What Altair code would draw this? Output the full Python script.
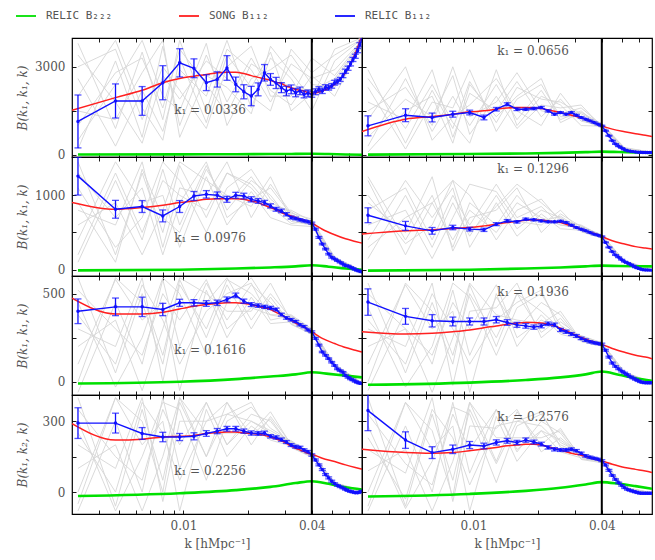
import altair as alt
import pandas as pd

# ---------------- data ----------------
K = [0.0032, 0.0048, 0.0064, 0.0080, 0.0096, 0.0112, 0.0128, 0.0144, 0.0160, 0.0176,
     0.0192, 0.0208, 0.0224, 0.0240, 0.0256, 0.0272, 0.0288, 0.0304, 0.0320, 0.0336,
     0.0352, 0.0368, 0.0384, 0.0400, 0.0416, 0.0432, 0.0448, 0.0464, 0.0480, 0.0496,
     0.0512, 0.0528, 0.0544, 0.0560, 0.0576, 0.0592, 0.0608, 0.0624, 0.0640, 0.0656,
     0.0672, 0.0688]
RED_K = [0.0030] + K[1:24] + [K[26], K[30], K[34], K[38], K[41]]
GREEN_K = [K[i] for i in (0, 4, 9, 14, 19, 23, 28, 34, 41)]
GRAY_K = [K[i] for i in (0, 1, 2, 3, 4, 6, 8, 11, 14, 18, 23, 30, 41)]
K_CUT = 0.04
X_DOMAIN = [0.003, 0.0688]
X_TICKS = [0.004, 0.005, 0.006, 0.007, 0.008, 0.009, 0.01, 0.02, 0.03, 0.04, 0.05, 0.06]

K1_LABELS = ["0.0336", "0.0656", "0.0976", "0.1296", "0.1616", "0.1936", "0.2256", "0.2576"]
Y_DOMAINS = [[-70, 3980], [-85, 1515], [-75, 600], [-93, 411]]
Y_TICKS = [[0, 1500, 3000], [0, 500, 1000], [0, 250, 500], [0, 150, 300]]
Y_LABELED = [[0, 3000], [0, 1000], [0, 500], [0, 300]]
Y_TITLES = ["B(k₁, k₁, k)", "B(k₁, k₁, k)", "B(k₁, k₁, k)", "B(k₁, k₂, k)"]

SERIES = ["RELIC B₂₂₂", "SONG B₁₁₂", "RELIC B₁₁₂"]
COLORS = ["#00e000", "#ff2020", "#1010ff"]

BLUE_0336 = [1140, 1837, 1837, 2458, 3135, 2950, 2460, 2570, 2960, 2400, 2150, 2005, 2232, 2796,
             2570, 2450, 2290, 2175, 2232, 2120, 2180, 2063, 2100, 2063, 2150, 2232, 2180, 2300,
             2290, 2350, 2458, 2500, 2570, 2700, 2850, 2950, 3100, 3250, 3358, 3550, 3750, 3950]
ERR_0336 = [900, 580, 490, 580, 480, 320, 270, 260, 420, 250, 240, 330, 220, 280, 200, 190, 170,
            160, 150, 140, 130, 120, 110, 100, 100, 90, 90, 90, 80, 80, 80, 80, 70, 70, 70, 70,
            70, 70, 70, 70, 70, 70]
RED_0336 = [1520, 1950, 2200, 2460, 2600, 2680, 2740, 2800, 2818, 2818, 2770, 2700, 2640, 2590,
            2540, 2470, 2430, 2340, 2290, 2230, 2200, 2170, 2120, 2100, 2175, 2400, 2800, 3450, 4100]
GREEN_0336 = [15, 20, 25, 30, 35, 40, 30, 15, 5]
GRAY_0336 = [
    [3800, 900, 3500, 1200, 3900, 1500, 3600, 2900, 1800, 3100, 2600, 2900, 3900],
    [200, 3200, 600, 3700, 1000, 3400, 1800, 3300, 2200, 1700, 2700, 2000, 3800],
    [2600, 300, 2200, 800, 2900, 2000, 3900, 1600, 3300, 2600, 1500, 3200, 3950],
    [500, 2400, 3900, 2000, 1500, 3800, 1000, 2600, 2900, 3400, 2400, 2300, 3700],
    [3000, 3600, 1200, 3000, 2200, 900, 3000, 3700, 2000, 2000, 3300, 2700, 3900],
    [1500, 1200, 2800, 3900, 600, 2700, 2300, 1400, 3700, 2800, 1900, 3600, 3990],
    [1000, 2800, 3300, 1600, 3600, 2400, 1400, 3100, 2700, 2300, 2200, 2600, 3850],
    [3400, 1800, 400, 2700, 1900, 3200, 2600, 2000, 1500, 3600, 2800, 3400, 3950],
    [2000, 3900, 1600, 500, 3300, 1100, 3400, 2300, 3500, 1500, 2100, 2500, 3800],
]

BLUE_0656 = [991, 1353, 1275, 1387, 1444, 1275, 1556, 1725, 1556, 1556, 1579, 1613, 1498, 1387,
             1444, 1387, 1444, 1353, 1275, 1217, 1160, 1105, 1048, 991, 822, 653, 484, 372, 293,
             237, 180, 146, 124, 113, 101, 90, 88, 86, 84, 82, 80, 80]
ERR_0656 = [340, 220, 150, 100, 80, 80, 60, 50, 45, 40, 40, 35, 35, 30, 30, 30, 28, 26, 25, 24,
            22, 20, 20, 20, 18, 16, 14, 12, 12, 10, 10, 10, 10, 10, 10, 10, 10, 10, 10, 10, 10, 10]
RED_0656 = [800, 1217, 1308, 1387, 1466, 1500, 1556, 1600, 1613, 1613, 1610, 1579, 1533, 1488,
            1444, 1400, 1353, 1308, 1262, 1217, 1160, 1105, 1048, 991, 878, 788, 720, 670, 631]
GREEN_0656 = [10, 30, 50, 70, 95, 112, 100, 85, 68]
GRAY_0656 = [
    [2900, 400, 2200, 900, 2500, 1100, 2300, 1900, 1800, 1400, 1050, 250, 90],
    [300, 2600, 800, 2000, 1000, 2400, 1200, 2200, 1200, 1500, 900, 150, 70],
    [1800, 1200, 2900, 600, 2100, 1500, 2500, 1300, 1900, 1150, 1000, 220, 100],
    [600, 1900, 1300, 2700, 700, 2000, 900, 1700, 1600, 1700, 950, 200, 60],
    [2300, 200, 1800, 1600, 2900, 800, 1900, 2400, 1300, 1300, 1080, 170, 80],
    [1200, 3000, 500, 1300, 1700, 2600, 1500, 1000, 2100, 1200, 920, 190, 90],
    [1500, 2300, 1000, 3000, 1300, 1800, 2800, 1500, 1400, 1600, 1020, 210, 85],
    [2600, 900, 2400, 1100, 400, 2900, 1000, 2000, 1700, 1000, 980, 160, 75],
    [100, 1500, 2000, 400, 2400, 1300, 2000, 2600, 1100, 1450, 1060, 230, 95],
]

BLUE_0976 = [1258, 812, 849, 723, 849, 991, 1013, 1000, 946, 1000, 990, 946, 924, 902, 857, 812,
             790, 745, 701, 688, 670, 656, 643, 625, 545, 434, 344, 277, 210, 166, 143, 120, 99,
             76, 54, 50, 32, 19, 0, -10, -20, -30]
ERR_0976 = [255, 120, 80, 80, 80, 60, 50, 45, 40, 40, 38, 35, 32, 30, 28, 26, 24, 22, 20, 18, 16,
            15, 14, 14, 12, 12, 10, 10, 10, 10, 8, 8, 8, 8, 8, 8, 8, 8, 8, 8, 8, 8]
RED_0976 = [905, 812, 835, 866, 902, 924, 946, 955, 955, 955, 946, 924, 902, 866, 835, 804, 768,
            741, 723, 701, 679, 665, 643, 625, 544, 470, 415, 380, 357]
GREEN_0976 = [-10, 0, 15, 30, 45, 60, 40, 15, 0]
GRAY_0976 = [
    [1450, 200, 1300, 500, 1400, 700, 1300, 1100, 800, 800, 650, 170, -20],
    [100, 1200, 400, 1350, 600, 1400, 800, 1200, 1000, 650, 600, 120, -30],
    [800, 600, 1450, 300, 1100, 1000, 1450, 700, 1150, 760, 680, 160, -10],
    [400, 1450, 900, 1000, 300, 1250, 600, 1050, 700, 600, 580, 140, -40],
    [1100, 300, 700, 1450, 1200, 500, 1100, 1350, 950, 720, 640, 130, -25],
    [600, 900, 200, 800, 1450, 1200, 1000, 850, 1250, 680, 610, 150, -35],
    [1300, 700, 1100, 200, 900, 1450, 700, 950, 1100, 740, 620, 155, -15],
    [200, 1300, 500, 1200, 1000, 800, 1300, 1150, 850, 620, 660, 135, -30],
    [900, 100, 1350, 700, 500, 1350, 900, 1250, 900, 780, 590, 145, -20],
]

BLUE_1296 = [732, 589, 522, 567, 545, 536, 612, 656, 643, 679, 670, 656, 643, 643, 652, 634, 598,
             567, 545, 522, 500, 478, 464, 447, 367, 300, 241, 197, 166, 134, 107, 90, 72, 54, 32,
             19, 9, 0, -3, -5, -6, -6]
ERR_1296 = [100, 60, 45, 30, 25, 22, 20, 18, 16, 15, 14, 13, 12, 12, 11, 10, 10, 9, 9, 8, 8, 8, 7,
            7, 6, 6, 6, 5, 5, 5, 5, 5, 5, 5, 5, 5, 5, 5, 5, 5, 5, 5]
RED_1296 = [478, 522, 536, 554, 567, 589, 612, 634, 652, 665, 670, 665, 656, 643, 634, 612, 589,
            567, 545, 522, 500, 487, 469, 447, 389, 344, 310, 290, 277]
GREEN_1296 = [-13, 0, 15, 30, 45, 54, 50, 47, 45]
GRAY_1296 = [
    [1200, 200, 900, 400, 800, 500, 900, 700, 600, 560, 460, 120, 5],
    [150, 1000, 300, 900, 450, 1000, 550, 800, 700, 520, 430, 100, -5],
    [900, 500, 1250, 250, 700, 800, 1100, 500, 750, 580, 470, 115, 0],
    [400, 1200, 700, 1100, 300, 900, 450, 750, 550, 530, 440, 95, -8],
    [1000, 350, 600, 1200, 1000, 400, 800, 950, 650, 600, 455, 110, 3],
    [600, 800, 150, 700, 1150, 1050, 650, 600, 800, 510, 425, 105, -3],
    [800, 1100, 400, 1000, 600, 1150, 700, 850, 600, 570, 450, 112, 2],
    [1250, 400, 1000, 300, 900, 600, 1000, 650, 720, 540, 465, 98, -4],
    [300, 700, 900, 1200, 500, 850, 1150, 900, 680, 590, 435, 108, 1],
]

BLUE_1616 = [400, 425, 425, 410, 448, 448, 444, 448, 467, 490, 457, 438, 432, 425, 419, 410, 381,
             362, 352, 342, 323, 313, 294, 284, 246, 208, 169, 150, 131, 111, 92, 73, 63, 54, 35,
             25, 16, 10, 2, -4, -8, -10]
ERR_1616 = [70, 50, 55, 35, 20, 18, 16, 15, 14, 13, 12, 11, 10, 9, 9, 8, 8, 7, 7, 6, 6, 6, 5, 5,
            5, 5, 4, 4, 4, 4, 4, 4, 4, 4, 4, 4, 4, 4, 4, 4, 4, 4]
RED_1616 = [475, 385, 385, 394, 413, 428, 438, 444, 448, 448, 444, 438, 428, 419, 410, 394, 381,
            362, 350, 333, 321, 310, 294, 283, 246, 217, 194, 179, 169]
GREEN_1616 = [-10, 0, 15, 30, 42, 54, 45, 35, 25]
GRAY_1616 = [
    [590, 50, 500, 150, 550, 300, 580, 500, 380, 380, 300, 100, -5],
    [-60, 450, 100, 580, 200, 560, 350, 550, 450, 330, 270, 80, -15],
    [300, 200, 590, 0, 450, 450, 590, 350, 500, 360, 295, 95, -8],
    [100, 580, 350, 450, -50, 520, 250, 480, 330, 340, 275, 85, -12],
    [450, -30, 250, 590, 500, 150, 450, 590, 420, 370, 290, 90, -6],
    [200, 350, -50, 300, 590, 500, 400, 400, 560, 345, 280, 88, -10],
    [520, 300, 150, 500, 350, 580, 300, 420, 380, 355, 300, 97, -9],
    [0, 590, 450, 100, 580, 250, 550, 300, 480, 325, 270, 83, -14],
    [380, 100, 550, 350, 100, 400, 500, 560, 350, 375, 288, 92, -7],
]

BLUE_1936 = [452, 371, 346, 342, 342, 342, 352, 336, 323, 317, 310, 317, 329, 323, 294, 284, 271,
             260, 246, 236, 227, 221, 217, 213, 179, 140, 106, 87, 73, 60, 50, 40, 29, 21, 13, 6,
             0, -4, -6, -6, -6, -6]
ERR_1936 = [75, 45, 35, 25, 20, 20, 18, 16, 14, 13, 12, 11, 10, 10, 9, 9, 8, 8, 7, 7, 6, 6, 6, 6,
            5, 5, 5, 4, 4, 4, 4, 4, 4, 4, 4, 4, 4, 4, 4, 4, 4, 4]
RED_1936 = [284, 271, 275, 284, 294, 307, 317, 327, 333, 336, 336, 333, 327, 317, 304, 290, 275,
            263, 252, 242, 232, 225, 217, 212, 189, 167, 150, 140, 131]
GREEN_1936 = [-17, -5, 10, 25, 42, 58, 40, 20, 6]
GRAY_1936 = [
    [560, 50, 450, 150, 500, 250, 500, 400, 300, 260, 220, 55, -4],
    [-50, 400, 100, 520, 150, 480, 300, 450, 380, 230, 205, 45, -8],
    [300, 200, 560, -20, 400, 420, 560, 250, 340, 255, 218, 52, -5],
    [100, 550, 300, 400, -60, 500, 200, 380, 270, 240, 210, 48, -7],
    [420, -30, 200, 560, 480, 150, 420, 500, 320, 250, 215, 50, -6],
    [200, 300, -60, 250, 560, 380, 350, 330, 400, 235, 208, 47, -9],
    [500, 300, 150, 450, 300, 550, 250, 350, 300, 245, 212, 49, -6],
    [0, 560, 400, 100, 550, 200, 500, 280, 360, 228, 202, 44, -8],
    [350, 100, 500, 300, 100, 350, 450, 520, 280, 262, 222, 54, -5],
]

BLUE_2256 = [292, 292, 248, 233, 233, 236, 248, 258, 268, 268, 258, 250, 248, 250, 236, 231, 222,
             212, 199, 192, 189, 178, 171, 157, 136, 115, 95, 74, 60, 46, 36, 28, 22, 17, 11, 6,
             2, 0, -3, -3, 0, 4]
ERR_2256 = [65, 42, 25, 20, 15, 15, 12, 11, 10, 10, 9, 9, 8, 8, 7, 7, 7, 6, 6, 6, 5, 5, 5, 5, 4,
            4, 4, 4, 4, 4, 3, 3, 3, 3, 3, 3, 3, 3, 3, 3, 3, 3]
RED_2256 = [290, 220, 224, 233, 236, 240, 248, 252, 254, 254, 250, 248, 245, 240, 233, 225, 217,
            206, 195, 185, 178, 171, 164, 160, 143, 129, 115, 104, 97]
GREEN_2256 = [-17, -5, 8, 22, 38, 46, 35, 20, 11]
GRAY_2256 = [
    [400, -60, 350, 50, 380, 150, 330, 300, 250, 210, 165, 40, 6],
    [-80, 300, 0, 400, 100, 380, 200, 330, 300, 190, 150, 32, 2],
    [200, 100, 400, -40, 300, 300, 380, 200, 320, 205, 160, 38, 5],
    [0, 400, 200, 300, -80, 350, 150, 280, 220, 195, 155, 34, 3],
    [300, -80, 150, 380, 350, 50, 300, 360, 270, 215, 162, 37, 4],
    [100, 200, -80, 150, 400, 250, 250, 250, 340, 200, 152, 35, 1],
    [350, 150, 50, 350, 200, 380, 200, 300, 260, 212, 168, 39, 5],
    [-50, 400, 300, 0, 400, 150, 380, 240, 310, 188, 148, 33, 2],
    [250, 0, 380, 250, 50, 300, 330, 380, 230, 218, 158, 36, 4],
]

BLUE_2576 = [345, 220, 167, 181, 199, 195, 210, 217, 210, 220, 212, 203, 189, 181, 178, 178, 181,
             175, 164, 153, 147, 143, 139, 133, 115, 92, 70, 53, 39, 28, 18, 11, 7, 3, 0, -3, -5,
             -5, -5, -5, -5, -5]
ERR_2576 = [85, 35, 25, 18, 15, 12, 11, 10, 9, 9, 8, 8, 7, 7, 6, 6, 6, 5, 5, 5, 5, 4, 4, 4, 4, 4,
            3, 3, 3, 3, 3, 3, 3, 3, 3, 3, 3, 3, 3, 3, 3, 3]
RED_2576 = [181, 167, 164, 167, 175, 182, 189, 196, 199, 202, 202, 199, 192, 185, 178, 171, 164,
            160, 156, 150, 145, 140, 136, 132, 118, 104, 96, 89, 83]
GREEN_2576 = [-19, -8, 5, 18, 32, 42, 35, 25, 14]
GRAY_2576 = [
    [400, -60, 330, 50, 350, 120, 300, 280, 200, 160, 140, 20, -3],
    [-80, 280, 0, 380, 80, 350, 170, 300, 250, 140, 128, 15, -6],
    [180, 80, 400, -40, 280, 270, 350, 170, 230, 155, 136, 19, -4],
    [0, 380, 180, 280, -80, 320, 130, 260, 170, 145, 130, 16, -7],
    [280, -70, 130, 360, 330, 40, 280, 330, 210, 165, 138, 18, -5],
    [90, 180, -80, 130, 380, 230, 230, 230, 260, 150, 125, 17, -6],
    [330, 120, 30, 330, 180, 350, 180, 260, 220, 158, 135, 19, -4],
    [-60, 380, 260, -20, 380, 130, 340, 200, 270, 138, 124, 15, -6],
    [230, -30, 350, 230, 30, 280, 300, 340, 190, 162, 140, 20, -5],
]

PANELS = [
    (BLUE_0336, ERR_0336, RED_0336, GREEN_0336, GRAY_0336),
    (BLUE_0656, ERR_0656, RED_0656, GREEN_0656, GRAY_0656),
    (BLUE_0976, ERR_0976, RED_0976, GREEN_0976, GRAY_0976),
    (BLUE_1296, ERR_1296, RED_1296, GREEN_1296, GRAY_1296),
    (BLUE_1616, ERR_1616, RED_1616, GREEN_1616, GRAY_1616),
    (BLUE_1936, ERR_1936, RED_1936, GREEN_1936, GRAY_1936),
    (BLUE_2256, ERR_2256, RED_2256, GREEN_2256, GRAY_2256),
    (BLUE_2576, ERR_2576, RED_2576, GREEN_2576, GRAY_2576),
]

# label placement inside each panel (pixels from panel's top-left)
LABEL_POS = [(138, 72), (171, 13), (138, 81), (171, 12), (138, 74), (171, 16), (138, 76), (171, 22)]

# ---------------- style ----------------
W, H = 290, 119
SERIF = "DejaVu Serif"
TXT = "#555555"
GRAY = "#d6d6d6"
BLUE = COLORS[2]

color_scale = alt.Scale(domain=SERIES, range=COLORS)
LEGEND = alt.Legend(orient="none", legendX=-57, legendY=-33, direction="horizontal",
                    title=None, symbolType="stroke", symbolSize=400, symbolStrokeWidth=1.8,
                    labelFont="DejaVu Sans Mono", labelFontSize=11, labelColor=TXT,
                    columnPadding=62, labelOffset=9, padding=0)

TICK_STYLE = dict(domain=False, tickSize=4, offset=-4, tickColor="black", tickWidth=0.9,
                  grid=False, labelFont=SERIF, labelFontSize=12, labelColor=TXT,
                  titleFont=SERIF, titleFontSize=12, titleColor=TXT, titleFontWeight="normal")


def panel(idx):
    row, col = divmod(idx, 2)
    blue, err, red, green, gray = PANELS[idx]
    xs = alt.Scale(type="log", domain=X_DOMAIN, nice=False)
    ys = alt.Scale(domain=Y_DOMAINS[row], nice=False, zero=False)

    bottom = row == 3
    xlab = "datum.value == 0.01 ? '0.01' : (datum.value == 0.04 ? '0.04' : '')"
    xb_kw = dict(orient="bottom", values=X_TICKS, labels=bottom, labelExpr=xlab,
                 labelOverlap=False, labelPadding=6, titlePadding=7, **TICK_STYLE)
    if bottom:
        xb_kw["title"] = "k [hMpc⁻¹]"
    else:
        xb_kw["title"] = None
    x_bottom = alt.Axis(**xb_kw)
    x_top = alt.Axis(orient="top", values=X_TICKS, labels=False, title=None, **TICK_STYLE)

    lab = Y_LABELED[row]
    ylab = (f"datum.value == {lab[0]} || datum.value == {lab[1]} "
            f"? format(datum.value, 'd') : ''")
    yl_kw = dict(orient="left", values=Y_TICKS[row], labels=(col == 0), labelExpr=ylab,
                 labelOverlap=False, labelPadding=7, titlePadding=6, **TICK_STYLE)
    if col == 0:
        yl_kw["title"] = Y_TITLES[row]
        yl_kw["titleFontStyle"] = "italic"
        yl_kw["minExtent"] = 41
        yl_kw["maxExtent"] = 41
    else:
        yl_kw["title"] = None
    y_left = alt.Axis(**yl_kw)
    y_right = alt.Axis(orient="right", values=Y_TICKS[row], labels=False, title=None, **TICK_STYLE)

    gray_rows = []
    for li, line in enumerate(gray):
        for k, v in zip(GRAY_K, line):
            gray_rows.append({"k": k, "v": v, "line": li})
    gray_df = pd.DataFrame(gray_rows)
    green_df = pd.DataFrame({"k": GREEN_K, "v": green, "series": SERIES[0]})
    red_df = pd.DataFrame({"k": RED_K, "v": red, "series": SERIES[1]})
    blue_df = pd.DataFrame({"k": K, "v": blue, "e": err, "series": SERIES[2]})
    blue_df["lo"] = blue_df["v"] - blue_df["e"]
    blue_df["hi"] = blue_df["v"] + blue_df["e"]
    caps_df = pd.concat([
        pd.DataFrame({"k": K, "c": blue_df["lo"]}),
        pd.DataFrame({"k": K, "c": blue_df["hi"]}),
    ])
    cut_df = pd.DataFrame({"k": [K_CUT]})
    txt_df = pd.DataFrame({"t": [f"k₁ = {K1_LABELS[idx]}"]})

    xn = alt.X("k:Q", scale=xs, axis=None)
    yn = alt.Y("v:Q", scale=ys, axis=None)
    col_enc = alt.Color("series:N", scale=color_scale, legend=LEGEND)

    g_layer = alt.Chart(gray_df).mark_line(color=GRAY, strokeWidth=0.9, clip=True).encode(
        x=alt.X("k:Q", scale=xs, axis=x_bottom),
        y=alt.Y("v:Q", scale=ys, axis=y_left),
        detail="line:N",
    )
    green_layer = alt.Chart(green_df).mark_line(strokeWidth=2.6, clip=True,
                                                interpolate="monotone").encode(
        x=xn, y=yn, color=col_enc)
    red_layer = alt.Chart(red_df).mark_line(strokeWidth=1.5, clip=True,
                                            interpolate="monotone").encode(
        x=xn, y=alt.Y("v:Q", scale=ys, axis=y_right), color=col_enc)
    err_layer = alt.Chart(blue_df).mark_rule(color=BLUE, strokeWidth=1.3, clip=True).encode(
        x=xn, y=alt.Y("lo:Q", scale=ys, axis=None), y2="hi:Q")
    cap_layer = alt.Chart(caps_df).mark_tick(color=BLUE, thickness=1.3, size=7,
                                             orient="horizontal", clip=True).encode(
        x=xn, y=alt.Y("c:Q", scale=ys, axis=None))
    blue_layer = alt.Chart(blue_df).mark_line(strokeWidth=1.4, clip=True).encode(
        x=xn, y=yn, color=col_enc)
    pts_layer = alt.Chart(blue_df).mark_point(filled=True, size=12, color=BLUE, opacity=1,
                                              clip=True).encode(x=xn, y=yn)
    cut_layer = alt.Chart(cut_df).mark_rule(color="black", strokeWidth=2).encode(
        x=alt.X("k:Q", scale=xs, axis=x_top))
    px, py = LABEL_POS[idx]
    txt_layer = alt.Chart(txt_df).mark_text(font=SERIF, fontSize=12, color=TXT,
                                            align="center", baseline="middle").encode(
        x=alt.value(px), y=alt.value(py), text="t:N")

    return alt.layer(g_layer, green_layer, red_layer, err_layer, cap_layer, blue_layer,
                     pts_layer, cut_layer, txt_layer).resolve_axis(
        x="independent", y="independent").properties(width=W, height=H)


chart = alt.concat(*[panel(i) for i in range(8)], columns=2, spacing=0,
                   bounds="flush").properties(
    padding={"left": 15, "top": 5, "right": 0, "bottom": 0},
    background="white",
).configure_view(stroke="black", strokeWidth=1.2)

chart.save("out.html", embed_options={"renderer": "svg", "actions": False})
